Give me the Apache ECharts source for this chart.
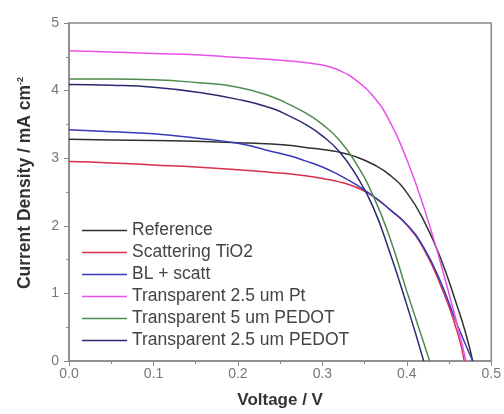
<!DOCTYPE html>
<html>
<head>
<meta charset="utf-8">
<script src="https://cdn.jsdelivr.net/npm/echarts@6/dist/echarts.min.js"></script>
<style>
  html, body { margin: 0; padding: 0; background: #fff; }
  #chart { width: 504px; height: 414px; }
</style>
</head>
<body>
<div id="chart"></div>
<script>
// J-V curves, voltage (V) vs current density (mA cm-2)
const refV = [0, 0.05, 0.1, 0.15, 0.2, 0.24, 0.26, 0.28, 0.3, 0.32, 0.34, 0.36, 0.38, 0.4, 0.42, 0.44, 0.46, 0.47, 0.478]
const refJ = [3.28, 3.27, 3.26, 3.25, 3.23, 3.21, 3.19, 3.16, 3.13, 3.09, 3.02, 2.91, 2.75, 2.49, 2.08, 1.52, 0.80, 0.40, 0]

const scatV = [0, 0.05, 0.1, 0.15, 0.2, 0.24, 0.26, 0.28, 0.3, 0.32, 0.34, 0.36, 0.38, 0.4, 0.42, 0.44, 0.46, 0.468]
const scatJ = [2.95, 2.93, 2.90, 2.87, 2.83, 2.79, 2.77, 2.74, 2.70, 2.65, 2.57, 2.44, 2.24, 2.01, 1.66, 1.12, 0.42, 0]

const blV = [0, 0.05, 0.1, 0.15, 0.2, 0.24, 0.26, 0.28, 0.3, 0.32, 0.34, 0.36, 0.38, 0.4, 0.42, 0.44, 0.46, 0.478]
const blJ = [3.42, 3.39, 3.36, 3.30, 3.22, 3.10, 3.04, 2.96, 2.87, 2.75, 2.61, 2.44, 2.24, 2.02, 1.68, 1.17, 0.53, 0]

const ptV = [0, 0.05, 0.1, 0.15, 0.2, 0.25, 0.3, 0.32, 0.34, 0.36, 0.38, 0.4, 0.42, 0.44, 0.46, 0.47]
const ptJ = [4.59, 4.57, 4.55, 4.53, 4.49, 4.45, 4.38, 4.30, 4.15, 3.92, 3.54, 2.98, 2.28, 1.45, 0.52, 0]

const pedot5V = [0, 0.05, 0.1, 0.15, 0.2, 0.24, 0.26, 0.28, 0.3, 0.32, 0.34, 0.36, 0.38, 0.4, 0.42, 0.427]
const pedot5J = [4.17, 4.17, 4.16, 4.12, 4.05, 3.91, 3.80, 3.67, 3.50, 3.27, 2.92, 2.45, 1.82, 1.03, 0.27, 0]

const pedot25V = [0, 0.05, 0.1, 0.15, 0.2, 0.24, 0.26, 0.28, 0.3, 0.32, 0.34, 0.36, 0.38, 0.4, 0.42]
const pedot25J = [4.09, 4.08, 4.05, 3.98, 3.87, 3.74, 3.63, 3.50, 3.33, 3.10, 2.75, 2.28, 1.60, 0.83, 0]

const seriesNames = ['Reference', 'Scattering TiO2', 'BL + scatt', 'Transparent 2.5 um Pt', 'Transparent 5 um PEDOT', 'Transparent 2.5 um PEDOT']
const seriesColors = ['#303030', '#d8304a', '#3a3ab8', '#e850e8', '#4e8c4e', '#2a2a70']
const seriesV = [refV, scatV, blV, ptV, pedot5V, pedot25V]
const seriesJ = [refJ, scatJ, blJ, ptJ, pedot5J, pedot25J]

const axisGray = '#8a8a8a'
const font = 'Liberation Sans, Arial, sans-serif'

const chart = echarts.init(document.getElementById('chart'), null, { renderer: 'canvas' })

chart.setOption({
  animation: false,
  backgroundColor: '#fff',
  grid: {
    left: 69, right: 12, top: 23, bottom: 52,
    show: true, borderColor: axisGray, borderWidth: 1.5, backgroundColor: 'transparent'
  },
  legend: {
    orient: 'vertical',
    left: 82,
    top: 221,
    padding: 0,
    icon: 'rect',
    itemWidth: 45,
    itemHeight: 1.5,
    itemGap: 3,
    itemTextGap: 3,
    data: seriesNames,
    textStyle: { color: '#444', fontSize: 17.5, lineHeight: 19, fontFamily: font }
  },
  xAxis: {
    type: 'value',
    min: 0, max: 0.5, interval: 0.1,
    name: 'Voltage / V',
    nameLocation: 'middle',
    nameGap: 31,
    nameTextStyle: { color: '#333', fontSize: 17, fontWeight: 'bold', fontFamily: font },
    axisLine: { show: true, lineStyle: { color: axisGray, width: 1.5 } },
    axisTick: { show: true, length: 5, lineStyle: { color: axisGray } },
    minorTick: { show: true, splitNumber: 2, length: 3, lineStyle: { color: axisGray } },
    axisLabel: { color: '#777', fontSize: 14, margin: 6, formatter: (v) => v.toFixed(1), fontFamily: font },
    splitLine: { show: false }
  },
  yAxis: {
    type: 'value',
    min: 0, max: 5, interval: 1,
    name: 'Current Density / mA cm{sup|-2}',
    nameLocation: 'middle',
    nameGap: 35,
    nameTextStyle: {
      color: '#333', fontSize: 17.5, fontWeight: 'bold', fontFamily: font,
      padding: [0, 0, 0, 18],
      rich: { sup: { fontSize: 9, fontWeight: 'bold', color: '#333', verticalAlign: 'top', padding: [0, 0, 8, 0] } }
    },
    axisLine: { show: true, lineStyle: { color: axisGray, width: 1.5 } },
    axisTick: { show: true, length: 5, lineStyle: { color: axisGray } },
    minorTick: { show: true, splitNumber: 2, length: 3, lineStyle: { color: axisGray } },
    axisLabel: { color: '#777', fontSize: 14, margin: 10, fontFamily: font },
    splitLine: { show: false }
  },
  series: seriesNames.map((name, i) => ({
    name,
    type: 'line',
    smooth: 0.5,
    symbol: 'none',
    color: seriesColors[i],
    lineStyle: { width: 1.5, color: seriesColors[i] },
    data: seriesV[i].map((v, k) => [v, seriesJ[i][k]])
  }))
})
</script>
</body>
</html>
